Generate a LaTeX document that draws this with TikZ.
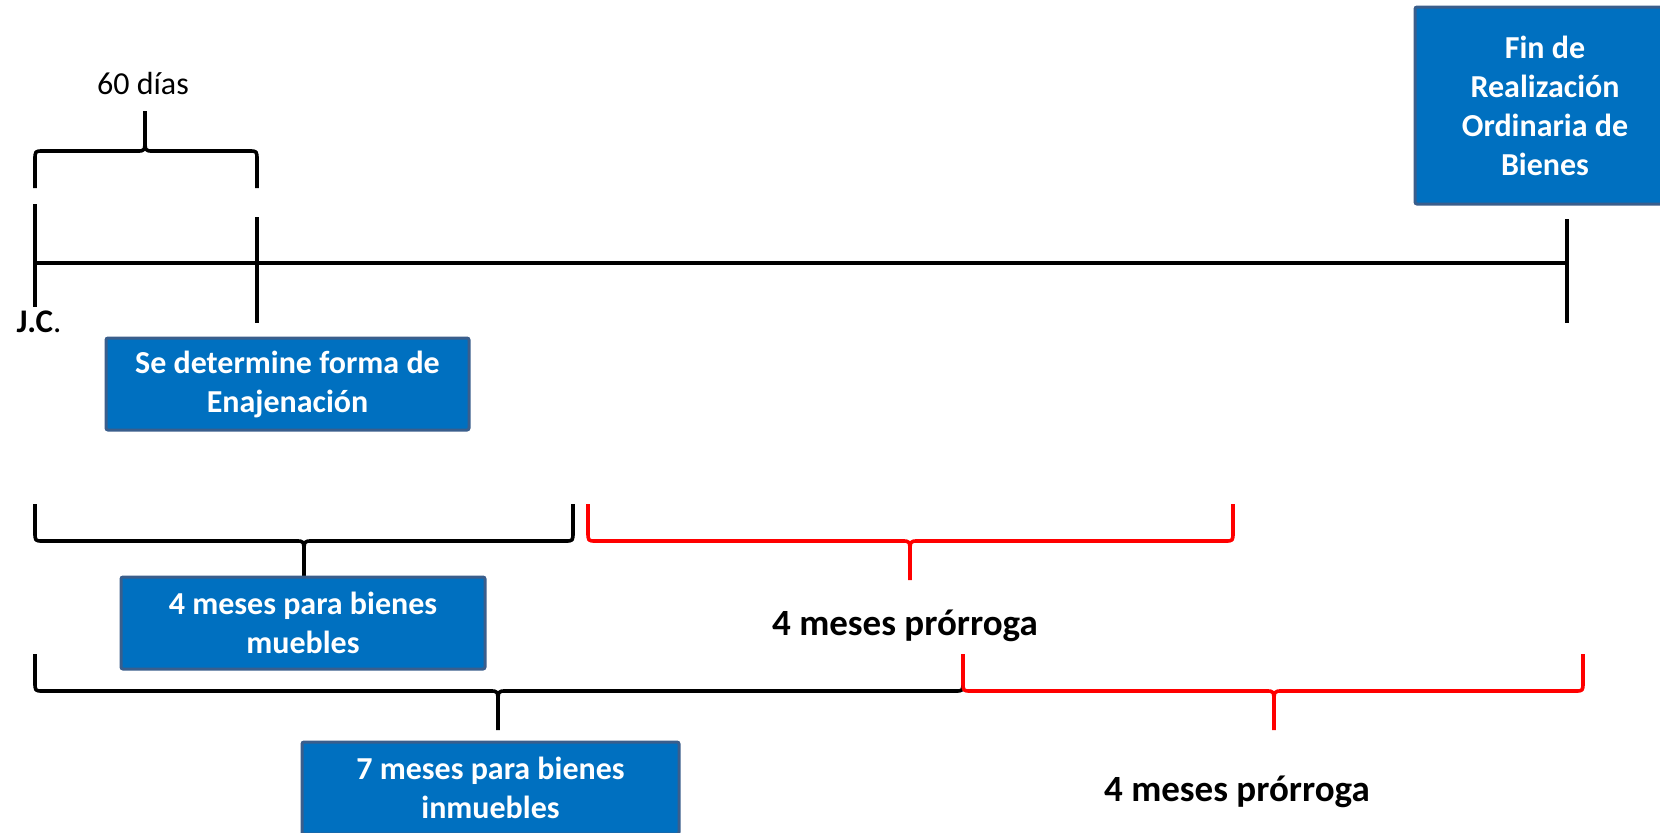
\documentclass[tikz,border=0pt]{standalone}
\usepackage{fontspec}
\setmainfont{Carlito}
\definecolor{boxblue}{RGB}{0,112,192}
\definecolor{boxedge}{RGB}{58,94,140}
\definecolor{prorred}{RGB}{255,0,0}

% curly bracket: [colour]{x left}{x right}{x tip}{y ends}{y flat}{y tip}
\newcommand{\tlbrace}[7][black]{%
  \pgfmathsetmacro\brcend{(#6-#5)/4}%
  \pgfmathsetmacro\brctip{(#7-#6)/3}%
  \draw[bracket, #1] (#2,#5) -- (#2,#6-\brcend) .. controls (#2,#6) .. (#2+8,#6)
    -- (#4-8,#6) .. controls (#4,#6) .. (#4,#6+\brctip) -- (#4,#7);
  \draw[bracket, #1] (#3,#5) -- (#3,#6-\brcend) .. controls (#3,#6) .. (#3-8,#6)
    -- (#4+8,#6) .. controls (#4,#6) .. (#4,#6+\brctip);
}

\begin{document}
\begin{tikzpicture}[x=0.5pt, y=-0.5pt,
    stagebox/.style={rectangle, draw=boxedge, fill=boxblue,
                     line width=1.5pt, rounded corners=1pt,
                     text=white, font=\fontsize{16}{19.5}\selectfont\bfseries,
                     align=center, minimum height=46pt, inner sep=2pt},
    bracket/.style={line width=1.8pt, line join=round},
    timeline/.style={line width=1.7pt},
    tick/.style={line width=2pt},
    note/.style={font=\fontsize{16}{19.5}\selectfont},
    prorroga/.style={font=\fontsize{18.5}{22}\selectfont\bfseries},
]
\clip (0,0) rectangle (1660,832);

% ─── Timeline ────────────────────────────────────────────────────
\coordinate (jc)   at (35,263);
\coordinate (d60)  at (257,263);
\coordinate (tend) at (1567,263);

\draw[timeline] (jc) -- (tend);
\draw[tick] (jc)   ++(0,-59) -- ++(0,103);
\draw[tick] (d60)  ++(0,-46) -- ++(0,106);
\draw[tick] (tend) ++(0,-44) -- ++(0,104);

\node[font=\fontsize{16.5}{19.5}\selectfont] (jclabel) at (39,322) {\textbf{J.C}.};

% ─── 60 days ─────────────────────────────────────────────────────
\tlbrace{35}{257}{145}{188}{151}{111}
\node[note] (dias) at (143,83) {60 días};

% ─── Boxes ───────────────────────────────────────────────────────
\node[stagebox, minimum width=181.5pt] (forma) at (287.5,384)
  {Se determine forma de\\Enajenación};
\node[stagebox, minimum width=130pt, minimum height=98.5pt] (fin) at (1545,105.5)
  {Fin de\\Realización\\Ordinaria de\\Bienes};

% ─── Muebles ─────────────────────────────────────────────────────
\tlbrace{35}{573}{304}{504}{541}{578}
\tlbrace[prorred]{588}{1233}{910}{504}{541}{580}
\node[stagebox, minimum width=182pt] (muebles) at (303,623)
  {4 meses para bienes\\muebles};
\node[prorroga] (prorr1) at (905,626) {4 meses prórroga};

% ─── Inmuebles ───────────────────────────────────────────────────
\tlbrace{35}{963}{498}{654}{691}{730}
\tlbrace[prorred]{963}{1583}{1274}{654}{691}{730}
\node[stagebox, minimum width=188.5pt] (inmuebles) at (490.5,788)
  {7 meses para bienes\\inmuebles};
\node[prorroga] (prorr2) at (1237,792) {4 meses prórroga};

\end{tikzpicture}
\end{document}
